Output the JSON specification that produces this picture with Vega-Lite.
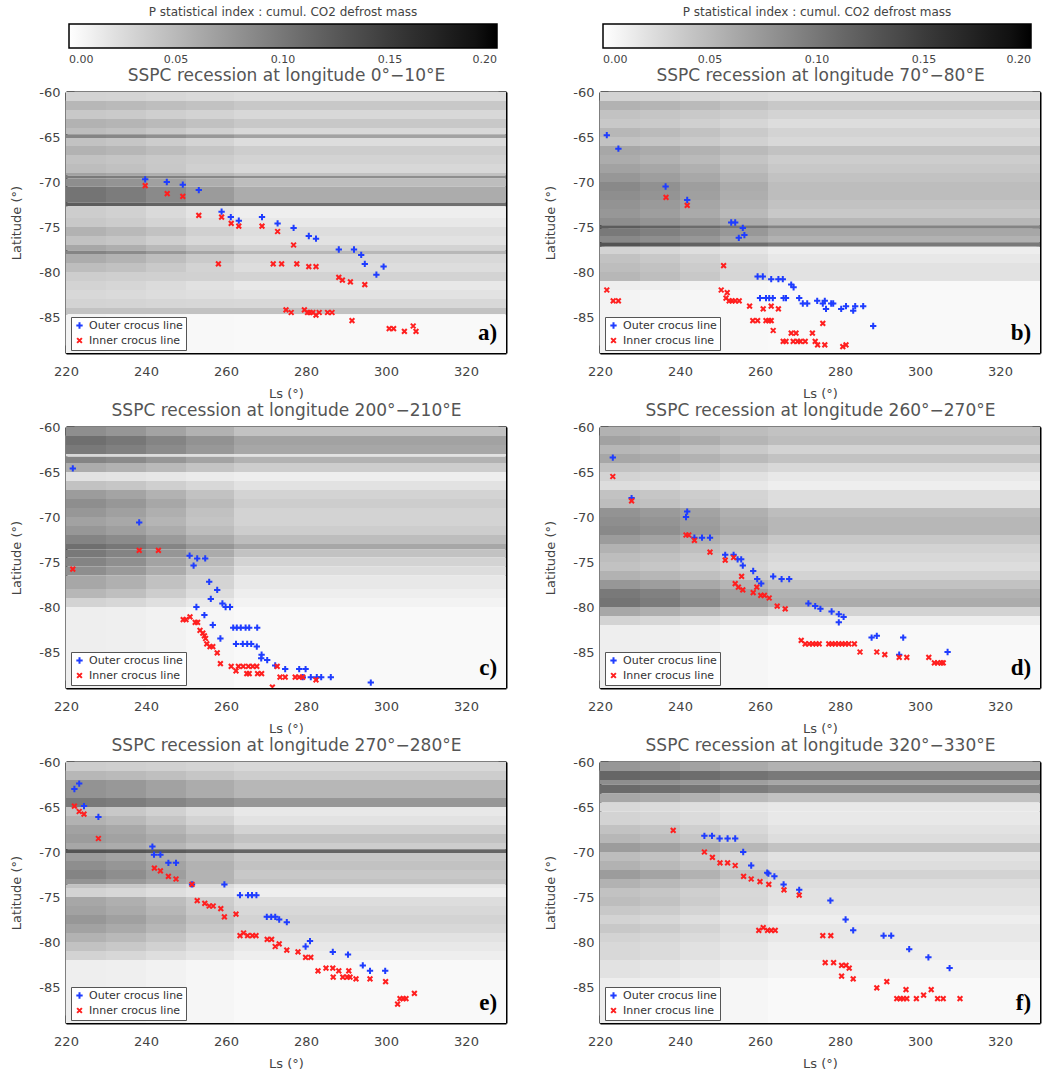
{
"$schema":"https://vega.github.io/schema/vega-lite/v6.json",
"background":"white",
"padding":{"left":10,"top":7,"right":4,"bottom":4},
"config":{"view":{"stroke":null},"axis":{"grid":false,"tickColor":"black","domainColor":"black","labelFont":"DejaVu Sans","titleFont":"DejaVu Sans","zindex":1,"labelFlush":false},"legend":{"labelFont":"DejaVu Sans","titleFont":"DejaVu Sans"}},
"datasets":{
"cols":[{"k":"c1","x0":220,"x1":230},{"k":"c2","x0":230,"x1":240},{"k":"c3","x0":240,"x1":250},{"k":"c4","x0":250,"x1":262},{"k":"c5","x0":262,"x1":330}],
"heat":[
{"p":"a","y0":-60,"y1":-61,"c1":0.031,"c2":0.030,"c3":0.028,"c4":0.026,"c5":0.024},
{"p":"a","y0":-61,"y1":-62,"c1":0.051,"c2":0.049,"c3":0.046,"c4":0.043,"c5":0.039},
{"p":"a","y0":-62,"y1":-63,"c1":0.039,"c2":0.037,"c3":0.034,"c4":0.031,"c5":0.027},
{"p":"a","y0":-63,"y1":-64,"c1":0.055,"c2":0.053,"c3":0.049,"c4":0.044,"c5":0.039},
{"p":"a","y0":-64,"y1":-64.7,"c1":0.047,"c2":0.044,"c3":0.039,"c4":0.033,"c5":0.027},
{"p":"a","y0":-64.7,"y1":-65.1,"c1":0.090,"c2":0.087,"c3":0.081,"c4":0.074,"c5":0.067},
{"p":"a","y0":-65.1,"y1":-66,"c1":0.043,"c2":0.040,"c3":0.035,"c4":0.030,"c5":0.024},
{"p":"a","y0":-66,"y1":-67,"c1":0.055,"c2":0.052,"c3":0.047,"c4":0.041,"c5":0.035},
{"p":"a","y0":-67,"y1":-68,"c1":0.043,"c2":0.041,"c3":0.038,"c4":0.035,"c5":0.031},
{"p":"a","y0":-68,"y1":-69,"c1":0.047,"c2":0.044,"c3":0.039,"c4":0.033,"c5":0.027},
{"p":"a","y0":-69,"y1":-69.3,"c1":0.067,"c2":0.063,"c3":0.057,"c4":0.050,"c5":0.043},
{"p":"a","y0":-69.3,"y1":-69.6,"c1":0.098,"c2":0.096,"c3":0.092,"c4":0.087,"c5":0.082},
{"p":"a","y0":-69.6,"y1":-70.5,"c1":0.082,"c2":0.077,"c3":0.068,"c4":0.058,"c5":0.047},
{"p":"a","y0":-70.5,"y1":-72.3,"c1":0.102,"c2":0.096,"c3":0.085,"c4":0.072,"c5":0.059},
{"p":"a","y0":-72.3,"y1":-72.7,"c1":0.122,"c2":0.120,"c3":0.116,"c4":0.111,"c5":0.106},
{"p":"a","y0":-72.7,"y1":-74,"c1":0.035,"c2":0.032,"c3":0.026,"c4":0.019,"c5":0.012},
{"p":"a","y0":-74,"y1":-75,"c1":0.039,"c2":0.036,"c3":0.030,"c4":0.023,"c5":0.016},
{"p":"a","y0":-75,"y1":-76,"c1":0.055,"c2":0.050,"c3":0.043,"c4":0.033,"c5":0.024},
{"p":"a","y0":-76,"y1":-77,"c1":0.043,"c2":0.040,"c3":0.034,"c4":0.027,"c5":0.020},
{"p":"a","y0":-77,"y1":-77.6,"c1":0.063,"c2":0.058,"c3":0.050,"c4":0.041,"c5":0.031},
{"p":"a","y0":-77.6,"y1":-78,"c1":0.090,"c2":0.084,"c3":0.074,"c4":0.063,"c5":0.051},
{"p":"a","y0":-78,"y1":-79,"c1":0.059,"c2":0.054,"c3":0.046,"c4":0.037,"c5":0.027},
{"p":"a","y0":-79,"y1":-80,"c1":0.047,"c2":0.044,"c3":0.038,"c4":0.031,"c5":0.024},
{"p":"a","y0":-80,"y1":-81,"c1":0.035,"c2":0.034,"c3":0.033,"c4":0.032,"c5":0.031},
{"p":"a","y0":-81,"y1":-82,"c1":0.031,"c2":0.029,"c3":0.025,"c4":0.021,"c5":0.016},
{"p":"a","y0":-82,"y1":-83,"c1":0.027,"c2":0.026,"c3":0.024,"c4":0.022,"c5":0.020},
{"p":"a","y0":-83,"y1":-84,"c1":0.031,"c2":0.030,"c3":0.029,"c4":0.028,"c5":0.027},
{"p":"a","y0":-84,"y1":-84.7,"c1":0.043,"c2":0.043,"c3":0.043,"c4":0.043,"c5":0.043},
{"p":"a","y0":-84.7,"y1":-89,"c1":0.008,"c2":0.007,"c3":0.006,"c4":0.005,"c5":0.004},
{"p":"b","y0":-60,"y1":-61,"c1":0.031,"c2":0.030,"c3":0.028,"c4":0.026,"c5":0.024},
{"p":"b","y0":-61,"y1":-62,"c1":0.055,"c2":0.053,"c3":0.049,"c4":0.044,"c5":0.039},
{"p":"b","y0":-62,"y1":-63,"c1":0.043,"c2":0.041,"c3":0.038,"c4":0.035,"c5":0.031},
{"p":"b","y0":-63,"y1":-64,"c1":0.039,"c2":0.037,"c3":0.033,"c4":0.029,"c5":0.024},
{"p":"b","y0":-64,"y1":-65,"c1":0.051,"c2":0.048,"c3":0.043,"c4":0.037,"c5":0.031},
{"p":"b","y0":-65,"y1":-66,"c1":0.043,"c2":0.041,"c3":0.037,"c4":0.032,"c5":0.027},
{"p":"b","y0":-66,"y1":-67,"c1":0.063,"c2":0.060,"c3":0.055,"c4":0.049,"c5":0.043},
{"p":"b","y0":-67,"y1":-68,"c1":0.059,"c2":0.055,"c3":0.049,"c4":0.042,"c5":0.035},
{"p":"b","y0":-68,"y1":-69,"c1":0.067,"c2":0.063,"c3":0.056,"c4":0.047,"c5":0.039},
{"p":"b","y0":-69,"y1":-70,"c1":0.075,"c2":0.070,"c3":0.062,"c4":0.053,"c5":0.043},
{"p":"b","y0":-70,"y1":-71,"c1":0.086,"c2":0.080,"c3":0.070,"c4":0.059,"c5":0.047},
{"p":"b","y0":-71,"y1":-72,"c1":0.082,"c2":0.077,"c3":0.068,"c4":0.058,"c5":0.047},
{"p":"b","y0":-72,"y1":-73,"c1":0.078,"c2":0.073,"c3":0.064,"c4":0.054,"c5":0.043},
{"p":"b","y0":-73,"y1":-74,"c1":0.075,"c2":0.070,"c3":0.061,"c4":0.050,"c5":0.039},
{"p":"b","y0":-74,"y1":-74.8,"c1":0.082,"c2":0.077,"c3":0.070,"c4":0.060,"c5":0.051},
{"p":"b","y0":-74.8,"y1":-75.2,"c1":0.122,"c2":0.117,"c3":0.109,"c4":0.100,"c5":0.090},
{"p":"b","y0":-75.2,"y1":-76,"c1":0.098,"c2":0.093,"c3":0.084,"c4":0.074,"c5":0.063},
{"p":"b","y0":-76,"y1":-76.7,"c1":0.086,"c2":0.081,"c3":0.074,"c4":0.064,"c5":0.055},
{"p":"b","y0":-76.7,"y1":-77.2,"c1":0.129,"c2":0.124,"c3":0.117,"c4":0.107,"c5":0.098},
{"p":"b","y0":-77.2,"y1":-78,"c1":0.031,"c2":0.028,"c3":0.023,"c4":0.018,"c5":0.012},
{"p":"b","y0":-78,"y1":-79,"c1":0.043,"c2":0.039,"c3":0.032,"c4":0.024,"c5":0.016},
{"p":"b","y0":-79,"y1":-80,"c1":0.047,"c2":0.043,"c3":0.036,"c4":0.028,"c5":0.020},
{"p":"b","y0":-80,"y1":-81,"c1":0.051,"c2":0.046,"c3":0.039,"c4":0.029,"c5":0.020},
{"p":"b","y0":-81,"y1":-82,"c1":0.012,"c2":0.011,"c3":0.009,"c4":0.007,"c5":0.005},
{"p":"b","y0":-82,"y1":-89,"c1":0.008,"c2":0.007,"c3":0.006,"c4":0.005,"c5":0.004},
{"p":"c","y0":-60,"y1":-61,"c1":0.082,"c2":0.076,"c3":0.066,"c4":0.055,"c5":0.043},
{"p":"c","y0":-61,"y1":-62,"c1":0.106,"c2":0.100,"c3":0.090,"c4":0.079,"c5":0.067},
{"p":"c","y0":-62,"y1":-63,"c1":0.098,"c2":0.093,"c3":0.084,"c4":0.074,"c5":0.063},
{"p":"c","y0":-63,"y1":-63.3,"c1":0.027,"c2":0.026,"c3":0.024,"c4":0.022,"c5":0.020},
{"p":"c","y0":-63.3,"y1":-64,"c1":0.090,"c2":0.085,"c3":0.076,"c4":0.066,"c5":0.055},
{"p":"c","y0":-64,"y1":-65,"c1":0.059,"c2":0.055,"c3":0.049,"c4":0.042,"c5":0.035},
{"p":"c","y0":-65,"y1":-66,"c1":0.020,"c2":0.019,"c3":0.017,"c4":0.014,"c5":0.012},
{"p":"c","y0":-66,"y1":-67,"c1":0.043,"c2":0.040,"c3":0.034,"c4":0.027,"c5":0.020},
{"p":"c","y0":-67,"y1":-68,"c1":0.071,"c2":0.065,"c3":0.055,"c4":0.043,"c5":0.031},
{"p":"c","y0":-68,"y1":-69,"c1":0.082,"c2":0.075,"c3":0.063,"c4":0.049,"c5":0.035},
{"p":"c","y0":-69,"y1":-70,"c1":0.075,"c2":0.068,"c3":0.057,"c4":0.044,"c5":0.031},
{"p":"c","y0":-70,"y1":-71,"c1":0.067,"c2":0.062,"c3":0.053,"c4":0.042,"c5":0.031},
{"p":"c","y0":-71,"y1":-72,"c1":0.075,"c2":0.069,"c3":0.059,"c4":0.047,"c5":0.035},
{"p":"c","y0":-72,"y1":-73,"c1":0.090,"c2":0.084,"c3":0.073,"c4":0.060,"c5":0.047},
{"p":"c","y0":-73,"y1":-73.6,"c1":0.106,"c2":0.100,"c3":0.089,"c4":0.076,"c5":0.063},
{"p":"c","y0":-73.6,"y1":-74.5,"c1":0.098,"c2":0.090,"c3":0.076,"c4":0.060,"c5":0.043},
{"p":"c","y0":-74.5,"y1":-75.5,"c1":0.090,"c2":0.081,"c3":0.066,"c4":0.049,"c5":0.031},
{"p":"c","y0":-75.5,"y1":-76.5,"c1":0.082,"c2":0.073,"c3":0.059,"c4":0.041,"c5":0.024},
{"p":"c","y0":-76.5,"y1":-78,"c1":0.063,"c2":0.056,"c3":0.044,"c4":0.030,"c5":0.016},
{"p":"c","y0":-78,"y1":-79,"c1":0.051,"c2":0.045,"c3":0.035,"c4":0.024,"c5":0.012},
{"p":"c","y0":-79,"y1":-80,"c1":0.031,"c2":0.028,"c3":0.022,"c4":0.015,"c5":0.008},
{"p":"c","y0":-80,"y1":-89,"c1":0.012,"c2":0.011,"c3":0.009,"c4":0.006,"c5":0.004},
{"p":"d","y0":-60,"y1":-61,"c1":0.055,"c2":0.053,"c3":0.050,"c4":0.047,"c5":0.043},
{"p":"d","y0":-61,"y1":-62,"c1":0.067,"c2":0.064,"c3":0.059,"c4":0.053,"c5":0.047},
{"p":"d","y0":-62,"y1":-63,"c1":0.051,"c2":0.048,"c3":0.043,"c4":0.037,"c5":0.031},
{"p":"d","y0":-63,"y1":-64,"c1":0.063,"c2":0.060,"c3":0.055,"c4":0.049,"c5":0.043},
{"p":"d","y0":-64,"y1":-65,"c1":0.043,"c2":0.041,"c3":0.037,"c4":0.032,"c5":0.027},
{"p":"d","y0":-65,"y1":-66,"c1":0.031,"c2":0.029,"c3":0.025,"c4":0.021,"c5":0.016},
{"p":"d","y0":-66,"y1":-67,"c1":0.024,"c2":0.022,"c3":0.019,"c4":0.016,"c5":0.012},
{"p":"d","y0":-67,"y1":-68,"c1":0.043,"c2":0.040,"c3":0.035,"c4":0.030,"c5":0.024},
{"p":"d","y0":-68,"y1":-69,"c1":0.047,"c2":0.044,"c3":0.038,"c4":0.031,"c5":0.024},
{"p":"d","y0":-69,"y1":-70,"c1":0.078,"c2":0.073,"c3":0.066,"c4":0.056,"c5":0.047},
{"p":"d","y0":-70,"y1":-71,"c1":0.082,"c2":0.077,"c3":0.070,"c4":0.060,"c5":0.051},
{"p":"d","y0":-71,"y1":-72,"c1":0.086,"c2":0.081,"c3":0.072,"c4":0.062,"c5":0.051},
{"p":"d","y0":-72,"y1":-73,"c1":0.071,"c2":0.066,"c3":0.058,"c4":0.049,"c5":0.039},
{"p":"d","y0":-73,"y1":-74,"c1":0.055,"c2":0.051,"c3":0.045,"c4":0.038,"c5":0.031},
{"p":"d","y0":-74,"y1":-75,"c1":0.047,"c2":0.044,"c3":0.039,"c4":0.033,"c5":0.027},
{"p":"d","y0":-75,"y1":-76,"c1":0.043,"c2":0.040,"c3":0.035,"c4":0.030,"c5":0.024},
{"p":"d","y0":-76,"y1":-77,"c1":0.055,"c2":0.051,"c3":0.045,"c4":0.038,"c5":0.031},
{"p":"d","y0":-77,"y1":-78,"c1":0.075,"c2":0.070,"c3":0.062,"c4":0.053,"c5":0.043},
{"p":"d","y0":-78,"y1":-79,"c1":0.098,"c2":0.092,"c3":0.081,"c4":0.068,"c5":0.055},
{"p":"d","y0":-79,"y1":-80,"c1":0.102,"c2":0.096,"c3":0.085,"c4":0.072,"c5":0.059},
{"p":"d","y0":-80,"y1":-81,"c1":0.063,"c2":0.058,"c3":0.050,"c4":0.041,"c5":0.031},
{"p":"d","y0":-81,"y1":-82,"c1":0.031,"c2":0.028,"c3":0.023,"c4":0.018,"c5":0.012},
{"p":"d","y0":-82,"y1":-89,"c1":0.012,"c2":0.011,"c3":0.009,"c4":0.006,"c5":0.004},
{"p":"e","y0":-60,"y1":-61,"c1":0.035,"c2":0.034,"c3":0.032,"c4":0.030,"c5":0.027},
{"p":"e","y0":-61,"y1":-62,"c1":0.051,"c2":0.049,"c3":0.045,"c4":0.040,"c5":0.035},
{"p":"e","y0":-62,"y1":-64,"c1":0.078,"c2":0.074,"c3":0.067,"c4":0.059,"c5":0.051},
{"p":"e","y0":-64,"y1":-65,"c1":0.098,"c2":0.095,"c3":0.089,"c4":0.082,"c5":0.075},
{"p":"e","y0":-65,"y1":-66,"c1":0.043,"c2":0.039,"c3":0.032,"c4":0.024,"c5":0.016},
{"p":"e","y0":-66,"y1":-67,"c1":0.055,"c2":0.050,"c3":0.041,"c4":0.031,"c5":0.020},
{"p":"e","y0":-67,"y1":-68,"c1":0.067,"c2":0.062,"c3":0.053,"c4":0.042,"c5":0.031},
{"p":"e","y0":-68,"y1":-69,"c1":0.071,"c2":0.067,"c3":0.060,"c4":0.051,"c5":0.043},
{"p":"e","y0":-69,"y1":-69.7,"c1":0.063,"c2":0.059,"c3":0.052,"c4":0.043,"c5":0.035},
{"p":"e","y0":-69.7,"y1":-70.1,"c1":0.129,"c2":0.127,"c3":0.123,"c4":0.118,"c5":0.114},
{"p":"e","y0":-70.1,"y1":-71,"c1":0.071,"c2":0.066,"c3":0.058,"c4":0.049,"c5":0.039},
{"p":"e","y0":-71,"y1":-72,"c1":0.082,"c2":0.076,"c3":0.066,"c4":0.055,"c5":0.043},
{"p":"e","y0":-72,"y1":-73,"c1":0.090,"c2":0.082,"c3":0.070,"c4":0.054,"c5":0.039},
{"p":"e","y0":-73,"y1":-73.6,"c1":0.078,"c2":0.073,"c3":0.064,"c4":0.054,"c5":0.043},
{"p":"e","y0":-73.6,"y1":-74,"c1":0.043,"c2":0.039,"c3":0.032,"c4":0.024,"c5":0.016},
{"p":"e","y0":-74,"y1":-75,"c1":0.031,"c2":0.028,"c3":0.023,"c4":0.018,"c5":0.012},
{"p":"e","y0":-75,"y1":-76,"c1":0.063,"c2":0.057,"c3":0.047,"c4":0.036,"c5":0.024},
{"p":"e","y0":-76,"y1":-77,"c1":0.067,"c2":0.061,"c3":0.051,"c4":0.039,"c5":0.027},
{"p":"e","y0":-77,"y1":-78,"c1":0.075,"c2":0.068,"c3":0.057,"c4":0.044,"c5":0.031},
{"p":"e","y0":-78,"y1":-79,"c1":0.067,"c2":0.061,"c3":0.051,"c4":0.039,"c5":0.027},
{"p":"e","y0":-79,"y1":-80,"c1":0.055,"c2":0.050,"c3":0.041,"c4":0.031,"c5":0.020},
{"p":"e","y0":-80,"y1":-81,"c1":0.043,"c2":0.039,"c3":0.032,"c4":0.024,"c5":0.016},
{"p":"e","y0":-81,"y1":-82,"c1":0.031,"c2":0.028,"c3":0.023,"c4":0.018,"c5":0.012},
{"p":"e","y0":-82,"y1":-89,"c1":0.012,"c2":0.011,"c3":0.009,"c4":0.006,"c5":0.004},
{"p":"f","y0":-60,"y1":-61,"c1":0.075,"c2":0.072,"c3":0.067,"c4":0.061,"c5":0.055},
{"p":"f","y0":-61,"y1":-62,"c1":0.114,"c2":0.112,"c3":0.108,"c4":0.103,"c5":0.098},
{"p":"f","y0":-62,"y1":-62.5,"c1":0.082,"c2":0.079,"c3":0.074,"c4":0.069,"c5":0.063},
{"p":"f","y0":-62.5,"y1":-63.5,"c1":0.110,"c2":0.107,"c3":0.102,"c4":0.096,"c5":0.090},
{"p":"f","y0":-63.5,"y1":-64.5,"c1":0.063,"c2":0.060,"c3":0.055,"c4":0.049,"c5":0.043},
{"p":"f","y0":-64.5,"y1":-65.5,"c1":0.027,"c2":0.025,"c3":0.023,"c4":0.019,"c5":0.016},
{"p":"f","y0":-65.5,"y1":-67,"c1":0.031,"c2":0.029,"c3":0.025,"c4":0.021,"c5":0.016},
{"p":"f","y0":-67,"y1":-68,"c1":0.043,"c2":0.040,"c3":0.034,"c4":0.027,"c5":0.020},
{"p":"f","y0":-68,"y1":-69,"c1":0.051,"c2":0.047,"c3":0.040,"c4":0.032,"c5":0.024},
{"p":"f","y0":-69,"y1":-70,"c1":0.071,"c2":0.067,"c3":0.060,"c4":0.051,"c5":0.043},
{"p":"f","y0":-70,"y1":-71,"c1":0.047,"c2":0.043,"c3":0.036,"c4":0.028,"c5":0.020},
{"p":"f","y0":-71,"y1":-72,"c1":0.055,"c2":0.050,"c3":0.043,"c4":0.033,"c5":0.024},
{"p":"f","y0":-72,"y1":-73,"c1":0.071,"c2":0.065,"c3":0.055,"c4":0.043,"c5":0.031},
{"p":"f","y0":-73,"y1":-74,"c1":0.055,"c2":0.050,"c3":0.043,"c4":0.033,"c5":0.024},
{"p":"f","y0":-74,"y1":-75,"c1":0.043,"c2":0.040,"c3":0.034,"c4":0.027,"c5":0.020},
{"p":"f","y0":-75,"y1":-76,"c1":0.047,"c2":0.043,"c3":0.036,"c4":0.028,"c5":0.020},
{"p":"f","y0":-76,"y1":-77,"c1":0.039,"c2":0.036,"c3":0.030,"c4":0.023,"c5":0.016},
{"p":"f","y0":-77,"y1":-78,"c1":0.031,"c2":0.028,"c3":0.023,"c4":0.018,"c5":0.012},
{"p":"f","y0":-78,"y1":-79,"c1":0.039,"c2":0.036,"c3":0.030,"c4":0.023,"c5":0.016},
{"p":"f","y0":-79,"y1":-80,"c1":0.031,"c2":0.029,"c3":0.025,"c4":0.021,"c5":0.016},
{"p":"f","y0":-80,"y1":-82,"c1":0.027,"c2":0.025,"c3":0.021,"c4":0.017,"c5":0.012},
{"p":"f","y0":-82,"y1":-84,"c1":0.020,"c2":0.018,"c3":0.015,"c4":0.012,"c5":0.008},
{"p":"f","y0":-84,"y1":-89,"c1":0.012,"c2":0.011,"c3":0.009,"c4":0.006,"c5":0.004}
],
"pts":[
{"p":"a","t":"o","x":239.8,"y":-69.7},{"p":"a","t":"o","x":245.2,"y":-70.0},{"p":"a","t":"o","x":249.2,"y":-70.3},{"p":"a","t":"o","x":253.2,"y":-70.9},{"p":"a","t":"o","x":258.9,"y":-73.3},{"p":"a","t":"o","x":261.2,"y":-73.9},{"p":"a","t":"o","x":263.2,"y":-74.3},{"p":"a","t":"o","x":269.0,"y":-73.9},{"p":"a","t":"o","x":272.9,"y":-74.6},{"p":"a","t":"o","x":276.9,"y":-75.1},{"p":"a","t":"o","x":280.7,"y":-76.0},{"p":"a","t":"o","x":282.5,"y":-76.3},{"p":"a","t":"o","x":288.2,"y":-77.5},{"p":"a","t":"o","x":292.0,"y":-77.5},{"p":"a","t":"o","x":293.8,"y":-78.1},{"p":"a","t":"o","x":294.7,"y":-79.1},{"p":"a","t":"o","x":297.6,"y":-80.3},{"p":"a","t":"o","x":299.4,"y":-79.4},
{"p":"a","t":"i","x":239.8,"y":-70.4},{"p":"a","t":"i","x":245.3,"y":-71.3},{"p":"a","t":"i","x":249.2,"y":-71.6},{"p":"a","t":"i","x":253.2,"y":-73.7},{"p":"a","t":"i","x":258.9,"y":-73.9},{"p":"a","t":"i","x":261.3,"y":-74.6},{"p":"a","t":"i","x":263.2,"y":-74.9},{"p":"a","t":"i","x":269.0,"y":-74.9},{"p":"a","t":"i","x":272.9,"y":-75.5},{"p":"a","t":"i","x":276.9,"y":-77.0},{"p":"a","t":"i","x":258.1,"y":-79.1},{"p":"a","t":"i","x":271.8,"y":-79.1},{"p":"a","t":"i","x":273.9,"y":-79.1},{"p":"a","t":"i","x":277.7,"y":-79.1},{"p":"a","t":"i","x":280.7,"y":-79.4},{"p":"a","t":"i","x":282.5,"y":-79.4},{"p":"a","t":"i","x":288.2,"y":-80.6},{"p":"a","t":"i","x":289.1,"y":-80.9},{"p":"a","t":"i","x":291.1,"y":-81.1},{"p":"a","t":"i","x":294.7,"y":-81.4},{"p":"a","t":"i","x":275.0,"y":-84.2},{"p":"a","t":"i","x":276.3,"y":-84.5},{"p":"a","t":"i","x":279.6,"y":-84.2},{"p":"a","t":"i","x":280.4,"y":-84.5},{"p":"a","t":"i","x":281.0,"y":-84.5},{"p":"a","t":"i","x":281.7,"y":-84.5},{"p":"a","t":"i","x":282.5,"y":-84.8},{"p":"a","t":"i","x":283.3,"y":-84.5},{"p":"a","t":"i","x":285.4,"y":-84.5},{"p":"a","t":"i","x":286.5,"y":-84.5},{"p":"a","t":"i","x":291.5,"y":-85.4},{"p":"a","t":"i","x":300.8,"y":-86.3},{"p":"a","t":"i","x":301.9,"y":-86.3},{"p":"a","t":"i","x":304.6,"y":-86.6},{"p":"a","t":"i","x":306.8,"y":-86.0},{"p":"a","t":"i","x":307.5,"y":-86.6},
{"p":"b","t":"o","x":221.7,"y":-64.8},{"p":"b","t":"o","x":224.6,"y":-66.3},{"p":"b","t":"o","x":236.4,"y":-70.5},{"p":"b","t":"o","x":241.8,"y":-72.0},{"p":"b","t":"o","x":252.8,"y":-74.5},{"p":"b","t":"o","x":253.8,"y":-74.5},{"p":"b","t":"o","x":255.7,"y":-75.1},{"p":"b","t":"o","x":254.7,"y":-76.2},{"p":"b","t":"o","x":256.1,"y":-75.9},{"p":"b","t":"o","x":259.4,"y":-80.5},{"p":"b","t":"o","x":260.7,"y":-80.5},{"p":"b","t":"o","x":262.8,"y":-80.8},{"p":"b","t":"o","x":264.6,"y":-80.8},{"p":"b","t":"o","x":265.7,"y":-80.8},{"p":"b","t":"o","x":267.8,"y":-81.4},{"p":"b","t":"o","x":268.4,"y":-81.7},{"p":"b","t":"o","x":260.0,"y":-82.9},{"p":"b","t":"o","x":261.5,"y":-82.9},{"p":"b","t":"o","x":262.3,"y":-82.9},{"p":"b","t":"o","x":263.2,"y":-82.9},{"p":"b","t":"o","x":265.9,"y":-82.9},{"p":"b","t":"o","x":266.5,"y":-82.9},{"p":"b","t":"o","x":269.8,"y":-82.9},{"p":"b","t":"o","x":270.7,"y":-83.5},{"p":"b","t":"o","x":271.8,"y":-83.5},{"p":"b","t":"o","x":274.3,"y":-83.2},{"p":"b","t":"o","x":275.7,"y":-83.5},{"p":"b","t":"o","x":276.2,"y":-83.2},{"p":"b","t":"o","x":276.5,"y":-84.1},{"p":"b","t":"o","x":277.8,"y":-83.5},{"p":"b","t":"o","x":278.3,"y":-83.5},{"p":"b","t":"o","x":280.3,"y":-84.1},{"p":"b","t":"o","x":281.5,"y":-83.8},{"p":"b","t":"o","x":283.3,"y":-84.3},{"p":"b","t":"o","x":283.8,"y":-83.8},{"p":"b","t":"o","x":285.8,"y":-83.8},{"p":"b","t":"o","x":288.3,"y":-86.0},
{"p":"b","t":"i","x":221.7,"y":-82.0},{"p":"b","t":"i","x":223.3,"y":-83.2},{"p":"b","t":"i","x":224.6,"y":-83.2},{"p":"b","t":"i","x":236.5,"y":-71.7},{"p":"b","t":"i","x":241.8,"y":-72.6},{"p":"b","t":"i","x":250.9,"y":-79.3},{"p":"b","t":"i","x":250.3,"y":-82.0},{"p":"b","t":"i","x":251.8,"y":-82.3},{"p":"b","t":"i","x":251.5,"y":-82.9},{"p":"b","t":"i","x":252.3,"y":-83.2},{"p":"b","t":"i","x":253.0,"y":-83.2},{"p":"b","t":"i","x":253.8,"y":-83.2},{"p":"b","t":"i","x":254.8,"y":-83.2},{"p":"b","t":"i","x":257.4,"y":-83.8},{"p":"b","t":"i","x":260.8,"y":-84.1},{"p":"b","t":"i","x":262.8,"y":-83.8},{"p":"b","t":"i","x":264.6,"y":-84.1},{"p":"b","t":"i","x":258.2,"y":-85.4},{"p":"b","t":"i","x":259.4,"y":-85.4},{"p":"b","t":"i","x":261.5,"y":-85.4},{"p":"b","t":"i","x":262.2,"y":-85.4},{"p":"b","t":"i","x":262.8,"y":-85.4},{"p":"b","t":"i","x":263.3,"y":-86.5},{"p":"b","t":"i","x":275.7,"y":-85.7},{"p":"b","t":"i","x":267.8,"y":-86.8},{"p":"b","t":"i","x":269.0,"y":-86.8},{"p":"b","t":"i","x":273.1,"y":-86.8},{"p":"b","t":"i","x":265.8,"y":-87.7},{"p":"b","t":"i","x":266.5,"y":-87.7},{"p":"b","t":"i","x":268.3,"y":-87.7},{"p":"b","t":"i","x":269.4,"y":-87.7},{"p":"b","t":"i","x":270.1,"y":-87.7},{"p":"b","t":"i","x":271.3,"y":-87.7},{"p":"b","t":"i","x":273.8,"y":-87.7},{"p":"b","t":"i","x":274.4,"y":-88.1},{"p":"b","t":"i","x":276.2,"y":-88.1},{"p":"b","t":"i","x":280.7,"y":-88.3},{"p":"b","t":"i","x":281.5,"y":-88.1},
{"p":"c","t":"o","x":221.7,"y":-64.6},{"p":"c","t":"o","x":238.3,"y":-70.6},{"p":"c","t":"o","x":250.9,"y":-74.3},{"p":"c","t":"o","x":252.8,"y":-74.6},{"p":"c","t":"o","x":254.8,"y":-74.6},{"p":"c","t":"o","x":251.9,"y":-75.4},{"p":"c","t":"o","x":255.8,"y":-77.2},{"p":"c","t":"o","x":257.8,"y":-78.1},{"p":"c","t":"o","x":256.2,"y":-79.1},{"p":"c","t":"o","x":259.1,"y":-79.6},{"p":"c","t":"o","x":259.9,"y":-80.0},{"p":"c","t":"o","x":261.0,"y":-80.0},{"p":"c","t":"o","x":252.6,"y":-80.0},{"p":"c","t":"o","x":254.6,"y":-80.9},{"p":"c","t":"o","x":256.7,"y":-82.0},{"p":"c","t":"o","x":261.8,"y":-82.3},{"p":"c","t":"o","x":262.7,"y":-82.3},{"p":"c","t":"o","x":263.7,"y":-82.3},{"p":"c","t":"o","x":264.9,"y":-82.3},{"p":"c","t":"o","x":265.8,"y":-82.3},{"p":"c","t":"o","x":267.8,"y":-82.3},{"p":"c","t":"o","x":258.6,"y":-83.5},{"p":"c","t":"o","x":262.5,"y":-84.1},{"p":"c","t":"o","x":264.2,"y":-84.1},{"p":"c","t":"o","x":265.3,"y":-84.1},{"p":"c","t":"o","x":266.3,"y":-84.1},{"p":"c","t":"o","x":267.7,"y":-84.4},{"p":"c","t":"o","x":268.9,"y":-85.3},{"p":"c","t":"o","x":268.8,"y":-85.7},{"p":"c","t":"o","x":270.3,"y":-85.9},{"p":"c","t":"o","x":272.3,"y":-86.5},{"p":"c","t":"o","x":274.8,"y":-86.9},{"p":"c","t":"o","x":278.3,"y":-86.9},{"p":"c","t":"o","x":279.9,"y":-86.9},{"p":"c","t":"o","x":279.2,"y":-87.8},{"p":"c","t":"o","x":281.2,"y":-87.8},{"p":"c","t":"o","x":282.7,"y":-87.8},{"p":"c","t":"o","x":283.8,"y":-87.8},{"p":"c","t":"o","x":286.2,"y":-87.8},{"p":"c","t":"o","x":296.2,"y":-88.4},
{"p":"c","t":"i","x":221.7,"y":-75.8},{"p":"c","t":"i","x":238.3,"y":-73.7},{"p":"c","t":"i","x":243.1,"y":-73.7},{"p":"c","t":"i","x":249.3,"y":-81.4},{"p":"c","t":"i","x":250.0,"y":-81.4},{"p":"c","t":"i","x":251.0,"y":-81.1},{"p":"c","t":"i","x":252.3,"y":-81.7},{"p":"c","t":"i","x":252.9,"y":-81.7},{"p":"c","t":"i","x":253.5,"y":-82.6},{"p":"c","t":"i","x":254.2,"y":-82.9},{"p":"c","t":"i","x":254.6,"y":-83.2},{"p":"c","t":"i","x":254.9,"y":-83.5},{"p":"c","t":"i","x":255.2,"y":-84.1},{"p":"c","t":"i","x":256.0,"y":-84.4},{"p":"c","t":"i","x":256.7,"y":-84.4},{"p":"c","t":"i","x":257.8,"y":-85.1},{"p":"c","t":"i","x":258.6,"y":-86.3},{"p":"c","t":"i","x":261.3,"y":-86.6},{"p":"c","t":"i","x":262.5,"y":-87.1},{"p":"c","t":"i","x":263.1,"y":-86.6},{"p":"c","t":"i","x":264.3,"y":-86.6},{"p":"c","t":"i","x":265.6,"y":-86.6},{"p":"c","t":"i","x":266.7,"y":-86.6},{"p":"c","t":"i","x":267.7,"y":-86.6},{"p":"c","t":"i","x":265.2,"y":-87.4},{"p":"c","t":"i","x":265.8,"y":-87.4},{"p":"c","t":"i","x":267.9,"y":-87.4},{"p":"c","t":"i","x":268.9,"y":-87.4},{"p":"c","t":"i","x":271.6,"y":-88.9},{"p":"c","t":"i","x":272.8,"y":-86.6},{"p":"c","t":"i","x":273.5,"y":-87.8},{"p":"c","t":"i","x":274.8,"y":-87.8},{"p":"c","t":"i","x":277.3,"y":-87.8},{"p":"c","t":"i","x":278.3,"y":-87.8},{"p":"c","t":"i","x":279.2,"y":-87.8},{"p":"c","t":"i","x":282.5,"y":-88.1},
{"p":"d","t":"o","x":223.2,"y":-63.4},{"p":"d","t":"o","x":227.9,"y":-67.9},{"p":"d","t":"o","x":241.8,"y":-69.4},{"p":"d","t":"o","x":241.5,"y":-70.0},{"p":"d","t":"o","x":243.6,"y":-72.3},{"p":"d","t":"o","x":245.5,"y":-72.3},{"p":"d","t":"o","x":247.5,"y":-72.3},{"p":"d","t":"o","x":251.3,"y":-74.2},{"p":"d","t":"o","x":253.4,"y":-74.2},{"p":"d","t":"o","x":254.4,"y":-74.7},{"p":"d","t":"o","x":255.3,"y":-74.7},{"p":"d","t":"o","x":255.7,"y":-75.4},{"p":"d","t":"o","x":258.3,"y":-76.0},{"p":"d","t":"o","x":259.3,"y":-76.9},{"p":"d","t":"o","x":260.3,"y":-77.4},{"p":"d","t":"o","x":263.3,"y":-76.6},{"p":"d","t":"o","x":265.4,"y":-76.9},{"p":"d","t":"o","x":267.3,"y":-76.9},{"p":"d","t":"o","x":272.1,"y":-79.6},{"p":"d","t":"o","x":273.8,"y":-79.9},{"p":"d","t":"o","x":275.1,"y":-80.2},{"p":"d","t":"o","x":277.9,"y":-80.5},{"p":"d","t":"o","x":279.7,"y":-80.8},{"p":"d","t":"o","x":279.7,"y":-81.7},{"p":"d","t":"o","x":280.9,"y":-81.1},{"p":"d","t":"o","x":287.9,"y":-83.4},{"p":"d","t":"o","x":289.2,"y":-83.2},{"p":"d","t":"o","x":295.8,"y":-83.4},{"p":"d","t":"o","x":294.8,"y":-85.3},{"p":"d","t":"o","x":306.9,"y":-85.0},
{"p":"d","t":"i","x":223.2,"y":-65.5},{"p":"d","t":"i","x":227.9,"y":-68.2},{"p":"d","t":"i","x":241.5,"y":-72.0},{"p":"d","t":"i","x":242.2,"y":-72.0},{"p":"d","t":"i","x":243.6,"y":-72.6},{"p":"d","t":"i","x":247.5,"y":-73.9},{"p":"d","t":"i","x":251.3,"y":-74.8},{"p":"d","t":"i","x":253.4,"y":-74.5},{"p":"d","t":"i","x":255.4,"y":-76.6},{"p":"d","t":"i","x":253.8,"y":-77.4},{"p":"d","t":"i","x":254.6,"y":-77.8},{"p":"d","t":"i","x":255.7,"y":-78.1},{"p":"d","t":"i","x":258.3,"y":-78.4},{"p":"d","t":"i","x":259.2,"y":-77.8},{"p":"d","t":"i","x":260.2,"y":-78.7},{"p":"d","t":"i","x":261.1,"y":-78.7},{"p":"d","t":"i","x":262.3,"y":-79.0},{"p":"d","t":"i","x":264.3,"y":-79.9},{"p":"d","t":"i","x":266.3,"y":-80.2},{"p":"d","t":"i","x":270.3,"y":-83.7},{"p":"d","t":"i","x":271.3,"y":-84.1},{"p":"d","t":"i","x":272.3,"y":-84.1},{"p":"d","t":"i","x":273.2,"y":-84.1},{"p":"d","t":"i","x":274.0,"y":-84.1},{"p":"d","t":"i","x":274.8,"y":-84.1},{"p":"d","t":"i","x":277.2,"y":-84.1},{"p":"d","t":"i","x":278.0,"y":-84.1},{"p":"d","t":"i","x":278.8,"y":-84.1},{"p":"d","t":"i","x":279.7,"y":-84.1},{"p":"d","t":"i","x":280.5,"y":-84.1},{"p":"d","t":"i","x":281.3,"y":-84.1},{"p":"d","t":"i","x":282.2,"y":-84.1},{"p":"d","t":"i","x":283.6,"y":-84.1},{"p":"d","t":"i","x":285.0,"y":-85.0},{"p":"d","t":"i","x":289.2,"y":-85.0},{"p":"d","t":"i","x":291.2,"y":-85.3},{"p":"d","t":"i","x":294.8,"y":-85.6},{"p":"d","t":"i","x":296.7,"y":-85.6},{"p":"d","t":"i","x":302.2,"y":-85.6},{"p":"d","t":"i","x":303.6,"y":-86.2},{"p":"d","t":"i","x":304.4,"y":-86.2},{"p":"d","t":"i","x":305.3,"y":-86.2},{"p":"d","t":"i","x":305.8,"y":-86.2},
{"p":"e","t":"o","x":222.1,"y":-63.0},{"p":"e","t":"o","x":223.3,"y":-62.4},{"p":"e","t":"o","x":224.5,"y":-64.9},{"p":"e","t":"o","x":228.1,"y":-66.1},{"p":"e","t":"o","x":241.6,"y":-69.4},{"p":"e","t":"o","x":242.0,"y":-70.3},{"p":"e","t":"o","x":243.6,"y":-70.3},{"p":"e","t":"o","x":245.6,"y":-71.2},{"p":"e","t":"o","x":247.5,"y":-71.2},{"p":"e","t":"o","x":251.5,"y":-73.6},{"p":"e","t":"o","x":259.6,"y":-73.6},{"p":"e","t":"o","x":263.5,"y":-74.8},{"p":"e","t":"o","x":265.5,"y":-74.8},{"p":"e","t":"o","x":266.5,"y":-74.8},{"p":"e","t":"o","x":267.6,"y":-74.8},{"p":"e","t":"o","x":270.2,"y":-77.2},{"p":"e","t":"o","x":271.3,"y":-77.2},{"p":"e","t":"o","x":272.3,"y":-77.2},{"p":"e","t":"o","x":273.3,"y":-77.5},{"p":"e","t":"o","x":275.2,"y":-77.8},{"p":"e","t":"o","x":279.9,"y":-80.5},{"p":"e","t":"o","x":281.0,"y":-79.9},{"p":"e","t":"o","x":286.7,"y":-81.1},{"p":"e","t":"o","x":290.5,"y":-81.4},{"p":"e","t":"o","x":294.2,"y":-82.6},{"p":"e","t":"o","x":296.0,"y":-83.2},{"p":"e","t":"o","x":299.8,"y":-83.2},
{"p":"e","t":"i","x":222.1,"y":-64.9},{"p":"e","t":"i","x":223.3,"y":-65.5},{"p":"e","t":"i","x":224.5,"y":-65.8},{"p":"e","t":"i","x":228.1,"y":-68.5},{"p":"e","t":"i","x":242.1,"y":-71.8},{"p":"e","t":"i","x":243.6,"y":-72.1},{"p":"e","t":"i","x":245.6,"y":-72.7},{"p":"e","t":"i","x":247.5,"y":-73.0},{"p":"e","t":"i","x":251.5,"y":-73.6},{"p":"e","t":"i","x":252.8,"y":-75.4},{"p":"e","t":"i","x":254.7,"y":-75.7},{"p":"e","t":"i","x":255.8,"y":-76.0},{"p":"e","t":"i","x":256.8,"y":-76.0},{"p":"e","t":"i","x":258.7,"y":-76.3},{"p":"e","t":"i","x":259.6,"y":-77.2},{"p":"e","t":"i","x":262.5,"y":-76.9},{"p":"e","t":"i","x":263.5,"y":-79.3},{"p":"e","t":"i","x":264.4,"y":-79.0},{"p":"e","t":"i","x":265.4,"y":-79.3},{"p":"e","t":"i","x":266.6,"y":-79.3},{"p":"e","t":"i","x":267.5,"y":-79.3},{"p":"e","t":"i","x":270.3,"y":-79.7},{"p":"e","t":"i","x":271.4,"y":-79.7},{"p":"e","t":"i","x":272.3,"y":-80.5},{"p":"e","t":"i","x":273.3,"y":-80.2},{"p":"e","t":"i","x":275.2,"y":-80.9},{"p":"e","t":"i","x":278.0,"y":-81.1},{"p":"e","t":"i","x":279.9,"y":-81.7},{"p":"e","t":"i","x":281.2,"y":-81.7},{"p":"e","t":"i","x":283.0,"y":-83.2},{"p":"e","t":"i","x":285.0,"y":-82.9},{"p":"e","t":"i","x":286.7,"y":-82.9},{"p":"e","t":"i","x":286.8,"y":-83.9},{"p":"e","t":"i","x":288.2,"y":-83.2},{"p":"e","t":"i","x":289.2,"y":-83.9},{"p":"e","t":"i","x":290.3,"y":-83.9},{"p":"e","t":"i","x":290.7,"y":-83.2},{"p":"e","t":"i","x":291.0,"y":-83.9},{"p":"e","t":"i","x":292.5,"y":-84.1},{"p":"e","t":"i","x":296.0,"y":-84.1},{"p":"e","t":"i","x":299.9,"y":-84.4},{"p":"e","t":"i","x":302.9,"y":-86.9},{"p":"e","t":"i","x":303.5,"y":-86.3},{"p":"e","t":"i","x":304.3,"y":-86.3},{"p":"e","t":"i","x":305.0,"y":-86.3},{"p":"e","t":"i","x":307.1,"y":-85.7},
{"p":"f","t":"o","x":246.1,"y":-68.2},{"p":"f","t":"o","x":248.0,"y":-68.2},{"p":"f","t":"o","x":249.9,"y":-68.5},{"p":"f","t":"o","x":251.9,"y":-68.5},{"p":"f","t":"o","x":253.8,"y":-68.5},{"p":"f","t":"o","x":255.8,"y":-70.0},{"p":"f","t":"o","x":257.8,"y":-71.5},{"p":"f","t":"o","x":261.8,"y":-72.3},{"p":"f","t":"o","x":262.1,"y":-72.4},{"p":"f","t":"o","x":263.6,"y":-72.7},{"p":"f","t":"o","x":265.9,"y":-73.6},{"p":"f","t":"o","x":269.8,"y":-74.2},{"p":"f","t":"o","x":277.6,"y":-75.4},{"p":"f","t":"o","x":281.4,"y":-77.5},{"p":"f","t":"o","x":283.3,"y":-78.7},{"p":"f","t":"o","x":290.9,"y":-79.3},{"p":"f","t":"o","x":292.8,"y":-79.3},{"p":"f","t":"o","x":297.3,"y":-80.8},{"p":"f","t":"o","x":302.1,"y":-81.7},{"p":"f","t":"o","x":307.4,"y":-82.9},
{"p":"f","t":"i","x":238.3,"y":-67.6},{"p":"f","t":"i","x":246.1,"y":-70.0},{"p":"f","t":"i","x":248.1,"y":-70.6},{"p":"f","t":"i","x":250.0,"y":-71.2},{"p":"f","t":"i","x":251.9,"y":-71.2},{"p":"f","t":"i","x":253.8,"y":-71.5},{"p":"f","t":"i","x":255.9,"y":-72.7},{"p":"f","t":"i","x":257.8,"y":-73.0},{"p":"f","t":"i","x":260.0,"y":-73.3},{"p":"f","t":"i","x":262.2,"y":-73.6},{"p":"f","t":"i","x":266.0,"y":-74.2},{"p":"f","t":"i","x":269.8,"y":-74.8},{"p":"f","t":"i","x":259.7,"y":-78.7},{"p":"f","t":"i","x":260.8,"y":-78.4},{"p":"f","t":"i","x":261.9,"y":-78.7},{"p":"f","t":"i","x":262.8,"y":-78.7},{"p":"f","t":"i","x":263.8,"y":-78.7},{"p":"f","t":"i","x":275.7,"y":-79.3},{"p":"f","t":"i","x":277.7,"y":-79.3},{"p":"f","t":"i","x":276.3,"y":-82.3},{"p":"f","t":"i","x":278.4,"y":-82.3},{"p":"f","t":"i","x":280.4,"y":-82.6},{"p":"f","t":"i","x":281.5,"y":-82.6},{"p":"f","t":"i","x":282.3,"y":-82.9},{"p":"f","t":"i","x":280.4,"y":-83.8},{"p":"f","t":"i","x":283.3,"y":-84.1},{"p":"f","t":"i","x":289.2,"y":-85.1},{"p":"f","t":"i","x":291.7,"y":-84.4},{"p":"f","t":"i","x":294.2,"y":-86.3},{"p":"f","t":"i","x":295.1,"y":-86.3},{"p":"f","t":"i","x":295.8,"y":-86.3},{"p":"f","t":"i","x":296.5,"y":-85.3},{"p":"f","t":"i","x":296.7,"y":-86.3},{"p":"f","t":"i","x":299.1,"y":-86.3},{"p":"f","t":"i","x":300.9,"y":-85.9},{"p":"f","t":"i","x":302.8,"y":-85.3},{"p":"f","t":"i","x":304.4,"y":-86.3},{"p":"f","t":"i","x":305.8,"y":-86.3},{"p":"f","t":"i","x":310.0,"y":-86.3}
]
},
"columns":2,
"bounds":"flush",
"spacing":{"row":74,"column":94},
"resolve":{"scale":{"fill":"independent","color":"independent","shape":"independent"}},
"concat":[
{"width":440,"height":261,"resolve":{"axis":{"x":"independent","y":"independent"}},"layer":[
{"data":{"name":"heat"},"transform":[{"filter":"datum.p=='a'"},{"fold":["c1","c2","c3","c4","c5"],"as":["k","v"]},{"lookup":"k","from":{"data":{"name":"cols"},"key":"k","fields":["x0","x1"]}}],"mark":"rect",
"encoding":{"x":{"field":"x0","type":"quantitative","scale":{"domain":[220,330],"nice":false,"zero":false},"axis":{"orient":"bottom","values":[220,240,260,280,300,320],"ticks":false,"tickSize":0,"domainWidth":2,"labelFontSize":13,"labelColor":"#444","labelPadding":12,"title":"Ls (°)","titleFontSize":13,"titleFontWeight":"normal","titleColor":"#444","titlePadding":9}},"x2":{"field":"x1"},
"y":{"field":"y0","type":"quantitative","scale":{"domain":[-89,-60],"nice":false,"zero":false},"axis":{"orient":"left","values":[-60,-65,-70,-75,-80,-85],"ticks":false,"tickSize":0,"domainWidth":2,"labelFontSize":13,"labelColor":"#444","labelPadding":6,"labelExpr":"''+datum.value","title":"Latitude (°)","titleFontSize":13,"titleFontWeight":"normal","titleColor":"#444","titlePadding":15}},"y2":{"field":"y1"},
"fill":{"field":"v","type":"quantitative","scale":{"domain":[0,0.2],"range":["#ffffff","#000000"],"clamp":true},"legend":{"orient":"none","legendX":3,"legendY":-85,"direction":"horizontal","gradientLength":428,"gradientThickness":24,"gradientStrokeColor":"black","gradientStrokeWidth":1.5,"title":"P statistical index : cumul. CO2 defrost mass","titleLimit":600,"titleAnchor":"middle","titleFontSize":12,"titleFontWeight":"normal","titleColor":"#444","titlePadding":5,"labelFontSize":11,"labelColor":"#444","labelAlign":"center","labelOffset":6,"values":[0,0.05,0.1,0.15,0.2],"format":".2f"}}}},
{"data":{"name":"pts"},"transform":[{"filter":"datum.p=='a'"}],"mark":{"type":"point","filled":false,"strokeWidth":2,"size":40,"opacity":1,"clip":true},
"encoding":{"x":{"field":"x","type":"quantitative","scale":{"domain":[220,330],"nice":false,"zero":false},"axis":{"orient":"top","ticks":false,"tickSize":0,"domainWidth":2,"labels":false,"title":"SSPC recession at longitude 0°−10°E","titleFontSize":17,"titleFontWeight":"normal","titleColor":"#555","titlePadding":8}},
"y":{"field":"y","type":"quantitative","scale":{"domain":[-89,-60],"nice":false,"zero":false},"axis":{"orient":"right","ticks":false,"tickSize":0,"domainWidth":2,"labels":false,"title":null}},
"color":{"field":"t","type":"nominal","scale":{"domain":["o","i"],"range":["#1f3dff","#ff1f1f"]},"legend":{"orient":"none","legendX":5,"legendY":225,"title":null,"labelExpr":"datum.label=='o'?'Outer crocus line':'Inner crocus line'","labelFontSize":11,"labelColor":"#333","padding":3,"rowPadding":1,"strokeColor":"#555","fillColor":"white","symbolStrokeWidth":2,"symbolSize":40,"cornerRadius":0}},
"shape":{"field":"t","type":"nominal","scale":{"domain":["o","i"],"range":["M-1,0L1,0M0,-1L0,1","M-0.75,-0.75L0.75,0.75M-0.75,0.75L0.75,-0.75"]},"legend":{"orient":"none","legendX":5,"legendY":225,"title":null,"labelExpr":"datum.label=='o'?'Outer crocus line':'Inner crocus line'","labelFontSize":11,"labelColor":"#333","padding":3,"rowPadding":1,"strokeColor":"#555","fillColor":"white","symbolStrokeWidth":2,"symbolSize":40,"cornerRadius":0}}}},
{"data":{"values":[{}]},"mark":{"type":"text","align":"right","baseline":"middle","font":"Liberation Serif","fontSize":23,"fontWeight":"bold","color":"black"},
"encoding":{"x":{"datum":327.8,"type":"quantitative","scale":{"domain":[220,330],"nice":false,"zero":false},"axis":{"orient":"bottom","values":[220,240,260,280,300,320],"tickSize":8,"offset":-8,"tickWidth":1.5,"domain":false,"labels":false,"title":null}},
"y":{"datum":-86.8,"type":"quantitative","scale":{"domain":[-89,-60],"nice":false,"zero":false},"axis":{"orient":"left","values":[-60,-65,-70,-75,-80,-85],"tickSize":8,"offset":-8,"tickWidth":1.5,"domain":false,"labels":false,"title":null}},"text":{"value":"a)"}}},
{"data":{"values":[{}]},"mark":{"type":"point","opacity":0},
"encoding":{"x":{"datum":300,"type":"quantitative","scale":{"domain":[220,330],"nice":false,"zero":false},"axis":{"orient":"top","values":[220,240,260,280,300,320],"tickSize":8,"offset":-8,"tickWidth":1.5,"domain":false,"labels":false,"title":null}},
"y":{"datum":-80,"type":"quantitative","scale":{"domain":[-89,-60],"nice":false,"zero":false},"axis":{"orient":"right","values":[-60,-65,-70,-75,-80,-85],"tickSize":8,"offset":-8,"tickWidth":1.5,"domain":false,"labels":false,"title":null}}}},
{"data":{"values":[{}]},"mark":{"type":"point","opacity":0},
"encoding":{"x":{"datum":300,"type":"quantitative","scale":{"domain":[220,330],"nice":false,"zero":false},"axis":{"orient":"bottom","values":[225,230,235,245,250,255,265,270,275,285,290,295,305,310,315,325],"tickSize":4,"offset":-4,"tickWidth":1.5,"domain":false,"labels":false,"title":null}},
"y":{"datum":-80,"type":"quantitative","scale":{"domain":[-89,-60],"nice":false,"zero":false},"axis":{"orient":"left","values":[-61,-62,-63,-64,-66,-67,-68,-69,-71,-72,-73,-74,-76,-77,-78,-79,-81,-82,-83,-84,-86,-87,-88],"tickSize":4,"offset":-4,"tickWidth":1.5,"domain":false,"labels":false,"title":null}}}},
{"data":{"values":[{}]},"mark":{"type":"point","opacity":0},
"encoding":{"x":{"datum":300,"type":"quantitative","scale":{"domain":[220,330],"nice":false,"zero":false},"axis":{"orient":"top","values":[225,230,235,245,250,255,265,270,275,285,290,295,305,310,315,325],"tickSize":4,"offset":-4,"tickWidth":1.5,"domain":false,"labels":false,"title":null}},
"y":{"datum":-80,"type":"quantitative","scale":{"domain":[-89,-60],"nice":false,"zero":false},"axis":{"orient":"right","values":[-61,-62,-63,-64,-66,-67,-68,-69,-71,-72,-73,-74,-76,-77,-78,-79,-81,-82,-83,-84,-86,-87,-88],"tickSize":4,"offset":-4,"tickWidth":1.5,"domain":false,"labels":false,"title":null}}}}
]},
{"width":440,"height":261,"resolve":{"axis":{"x":"independent","y":"independent"}},"layer":[
{"data":{"name":"heat"},"transform":[{"filter":"datum.p=='b'"},{"fold":["c1","c2","c3","c4","c5"],"as":["k","v"]},{"lookup":"k","from":{"data":{"name":"cols"},"key":"k","fields":["x0","x1"]}}],"mark":"rect",
"encoding":{"x":{"field":"x0","type":"quantitative","scale":{"domain":[220,330],"nice":false,"zero":false},"axis":{"orient":"bottom","values":[220,240,260,280,300,320],"ticks":false,"tickSize":0,"domainWidth":2,"labelFontSize":13,"labelColor":"#444","labelPadding":12,"title":"Ls (°)","titleFontSize":13,"titleFontWeight":"normal","titleColor":"#444","titlePadding":9}},"x2":{"field":"x1"},
"y":{"field":"y0","type":"quantitative","scale":{"domain":[-89,-60],"nice":false,"zero":false},"axis":{"orient":"left","values":[-60,-65,-70,-75,-80,-85],"ticks":false,"tickSize":0,"domainWidth":2,"labelFontSize":13,"labelColor":"#444","labelPadding":6,"labelExpr":"''+datum.value","title":"Latitude (°)","titleFontSize":13,"titleFontWeight":"normal","titleColor":"#444","titlePadding":15}},"y2":{"field":"y1"},
"fill":{"field":"v","type":"quantitative","scale":{"domain":[0,0.2],"range":["#ffffff","#000000"],"clamp":true},"legend":{"orient":"none","legendX":3,"legendY":-85,"direction":"horizontal","gradientLength":428,"gradientThickness":24,"gradientStrokeColor":"black","gradientStrokeWidth":1.5,"title":"P statistical index : cumul. CO2 defrost mass","titleLimit":600,"titleAnchor":"middle","titleFontSize":12,"titleFontWeight":"normal","titleColor":"#444","titlePadding":5,"labelFontSize":11,"labelColor":"#444","labelAlign":"center","labelOffset":6,"values":[0,0.05,0.1,0.15,0.2],"format":".2f"}}}},
{"data":{"name":"pts"},"transform":[{"filter":"datum.p=='b'"}],"mark":{"type":"point","filled":false,"strokeWidth":2,"size":40,"opacity":1,"clip":true},
"encoding":{"x":{"field":"x","type":"quantitative","scale":{"domain":[220,330],"nice":false,"zero":false},"axis":{"orient":"top","ticks":false,"tickSize":0,"domainWidth":2,"labels":false,"title":"SSPC recession at longitude 70°−80°E","titleFontSize":17,"titleFontWeight":"normal","titleColor":"#555","titlePadding":8}},
"y":{"field":"y","type":"quantitative","scale":{"domain":[-89,-60],"nice":false,"zero":false},"axis":{"orient":"right","ticks":false,"tickSize":0,"domainWidth":2,"labels":false,"title":null}},
"color":{"field":"t","type":"nominal","scale":{"domain":["o","i"],"range":["#1f3dff","#ff1f1f"]},"legend":{"orient":"none","legendX":5,"legendY":225,"title":null,"labelExpr":"datum.label=='o'?'Outer crocus line':'Inner crocus line'","labelFontSize":11,"labelColor":"#333","padding":3,"rowPadding":1,"strokeColor":"#555","fillColor":"white","symbolStrokeWidth":2,"symbolSize":40,"cornerRadius":0}},
"shape":{"field":"t","type":"nominal","scale":{"domain":["o","i"],"range":["M-1,0L1,0M0,-1L0,1","M-0.75,-0.75L0.75,0.75M-0.75,0.75L0.75,-0.75"]},"legend":{"orient":"none","legendX":5,"legendY":225,"title":null,"labelExpr":"datum.label=='o'?'Outer crocus line':'Inner crocus line'","labelFontSize":11,"labelColor":"#333","padding":3,"rowPadding":1,"strokeColor":"#555","fillColor":"white","symbolStrokeWidth":2,"symbolSize":40,"cornerRadius":0}}}},
{"data":{"values":[{}]},"mark":{"type":"text","align":"right","baseline":"middle","font":"Liberation Serif","fontSize":23,"fontWeight":"bold","color":"black"},
"encoding":{"x":{"datum":327.8,"type":"quantitative","scale":{"domain":[220,330],"nice":false,"zero":false},"axis":{"orient":"bottom","values":[220,240,260,280,300,320],"tickSize":8,"offset":-8,"tickWidth":1.5,"domain":false,"labels":false,"title":null}},
"y":{"datum":-86.8,"type":"quantitative","scale":{"domain":[-89,-60],"nice":false,"zero":false},"axis":{"orient":"left","values":[-60,-65,-70,-75,-80,-85],"tickSize":8,"offset":-8,"tickWidth":1.5,"domain":false,"labels":false,"title":null}},"text":{"value":"b)"}}},
{"data":{"values":[{}]},"mark":{"type":"point","opacity":0},
"encoding":{"x":{"datum":300,"type":"quantitative","scale":{"domain":[220,330],"nice":false,"zero":false},"axis":{"orient":"top","values":[220,240,260,280,300,320],"tickSize":8,"offset":-8,"tickWidth":1.5,"domain":false,"labels":false,"title":null}},
"y":{"datum":-80,"type":"quantitative","scale":{"domain":[-89,-60],"nice":false,"zero":false},"axis":{"orient":"right","values":[-60,-65,-70,-75,-80,-85],"tickSize":8,"offset":-8,"tickWidth":1.5,"domain":false,"labels":false,"title":null}}}},
{"data":{"values":[{}]},"mark":{"type":"point","opacity":0},
"encoding":{"x":{"datum":300,"type":"quantitative","scale":{"domain":[220,330],"nice":false,"zero":false},"axis":{"orient":"bottom","values":[225,230,235,245,250,255,265,270,275,285,290,295,305,310,315,325],"tickSize":4,"offset":-4,"tickWidth":1.5,"domain":false,"labels":false,"title":null}},
"y":{"datum":-80,"type":"quantitative","scale":{"domain":[-89,-60],"nice":false,"zero":false},"axis":{"orient":"left","values":[-61,-62,-63,-64,-66,-67,-68,-69,-71,-72,-73,-74,-76,-77,-78,-79,-81,-82,-83,-84,-86,-87,-88],"tickSize":4,"offset":-4,"tickWidth":1.5,"domain":false,"labels":false,"title":null}}}},
{"data":{"values":[{}]},"mark":{"type":"point","opacity":0},
"encoding":{"x":{"datum":300,"type":"quantitative","scale":{"domain":[220,330],"nice":false,"zero":false},"axis":{"orient":"top","values":[225,230,235,245,250,255,265,270,275,285,290,295,305,310,315,325],"tickSize":4,"offset":-4,"tickWidth":1.5,"domain":false,"labels":false,"title":null}},
"y":{"datum":-80,"type":"quantitative","scale":{"domain":[-89,-60],"nice":false,"zero":false},"axis":{"orient":"right","values":[-61,-62,-63,-64,-66,-67,-68,-69,-71,-72,-73,-74,-76,-77,-78,-79,-81,-82,-83,-84,-86,-87,-88],"tickSize":4,"offset":-4,"tickWidth":1.5,"domain":false,"labels":false,"title":null}}}}
]},
{"width":440,"height":261,"resolve":{"axis":{"x":"independent","y":"independent"}},"layer":[
{"data":{"name":"heat"},"transform":[{"filter":"datum.p=='c'"},{"fold":["c1","c2","c3","c4","c5"],"as":["k","v"]},{"lookup":"k","from":{"data":{"name":"cols"},"key":"k","fields":["x0","x1"]}}],"mark":"rect",
"encoding":{"x":{"field":"x0","type":"quantitative","scale":{"domain":[220,330],"nice":false,"zero":false},"axis":{"orient":"bottom","values":[220,240,260,280,300,320],"ticks":false,"tickSize":0,"domainWidth":2,"labelFontSize":13,"labelColor":"#444","labelPadding":12,"title":"Ls (°)","titleFontSize":13,"titleFontWeight":"normal","titleColor":"#444","titlePadding":9}},"x2":{"field":"x1"},
"y":{"field":"y0","type":"quantitative","scale":{"domain":[-89,-60],"nice":false,"zero":false},"axis":{"orient":"left","values":[-60,-65,-70,-75,-80,-85],"ticks":false,"tickSize":0,"domainWidth":2,"labelFontSize":13,"labelColor":"#444","labelPadding":6,"labelExpr":"''+datum.value","title":"Latitude (°)","titleFontSize":13,"titleFontWeight":"normal","titleColor":"#444","titlePadding":15}},"y2":{"field":"y1"},
"fill":{"field":"v","type":"quantitative","scale":{"domain":[0,0.2],"range":["#ffffff","#000000"],"clamp":true},"legend":null}}},
{"data":{"name":"pts"},"transform":[{"filter":"datum.p=='c'"}],"mark":{"type":"point","filled":false,"strokeWidth":2,"size":40,"opacity":1,"clip":true},
"encoding":{"x":{"field":"x","type":"quantitative","scale":{"domain":[220,330],"nice":false,"zero":false},"axis":{"orient":"top","ticks":false,"tickSize":0,"domainWidth":2,"labels":false,"title":"SSPC recession at longitude 200°−210°E","titleFontSize":17,"titleFontWeight":"normal","titleColor":"#555","titlePadding":8}},
"y":{"field":"y","type":"quantitative","scale":{"domain":[-89,-60],"nice":false,"zero":false},"axis":{"orient":"right","ticks":false,"tickSize":0,"domainWidth":2,"labels":false,"title":null}},
"color":{"field":"t","type":"nominal","scale":{"domain":["o","i"],"range":["#1f3dff","#ff1f1f"]},"legend":{"orient":"none","legendX":5,"legendY":225,"title":null,"labelExpr":"datum.label=='o'?'Outer crocus line':'Inner crocus line'","labelFontSize":11,"labelColor":"#333","padding":3,"rowPadding":1,"strokeColor":"#555","fillColor":"white","symbolStrokeWidth":2,"symbolSize":40,"cornerRadius":0}},
"shape":{"field":"t","type":"nominal","scale":{"domain":["o","i"],"range":["M-1,0L1,0M0,-1L0,1","M-0.75,-0.75L0.75,0.75M-0.75,0.75L0.75,-0.75"]},"legend":{"orient":"none","legendX":5,"legendY":225,"title":null,"labelExpr":"datum.label=='o'?'Outer crocus line':'Inner crocus line'","labelFontSize":11,"labelColor":"#333","padding":3,"rowPadding":1,"strokeColor":"#555","fillColor":"white","symbolStrokeWidth":2,"symbolSize":40,"cornerRadius":0}}}},
{"data":{"values":[{}]},"mark":{"type":"text","align":"right","baseline":"middle","font":"Liberation Serif","fontSize":23,"fontWeight":"bold","color":"black"},
"encoding":{"x":{"datum":327.8,"type":"quantitative","scale":{"domain":[220,330],"nice":false,"zero":false},"axis":{"orient":"bottom","values":[220,240,260,280,300,320],"tickSize":8,"offset":-8,"tickWidth":1.5,"domain":false,"labels":false,"title":null}},
"y":{"datum":-86.8,"type":"quantitative","scale":{"domain":[-89,-60],"nice":false,"zero":false},"axis":{"orient":"left","values":[-60,-65,-70,-75,-80,-85],"tickSize":8,"offset":-8,"tickWidth":1.5,"domain":false,"labels":false,"title":null}},"text":{"value":"c)"}}},
{"data":{"values":[{}]},"mark":{"type":"point","opacity":0},
"encoding":{"x":{"datum":300,"type":"quantitative","scale":{"domain":[220,330],"nice":false,"zero":false},"axis":{"orient":"top","values":[220,240,260,280,300,320],"tickSize":8,"offset":-8,"tickWidth":1.5,"domain":false,"labels":false,"title":null}},
"y":{"datum":-80,"type":"quantitative","scale":{"domain":[-89,-60],"nice":false,"zero":false},"axis":{"orient":"right","values":[-60,-65,-70,-75,-80,-85],"tickSize":8,"offset":-8,"tickWidth":1.5,"domain":false,"labels":false,"title":null}}}},
{"data":{"values":[{}]},"mark":{"type":"point","opacity":0},
"encoding":{"x":{"datum":300,"type":"quantitative","scale":{"domain":[220,330],"nice":false,"zero":false},"axis":{"orient":"bottom","values":[225,230,235,245,250,255,265,270,275,285,290,295,305,310,315,325],"tickSize":4,"offset":-4,"tickWidth":1.5,"domain":false,"labels":false,"title":null}},
"y":{"datum":-80,"type":"quantitative","scale":{"domain":[-89,-60],"nice":false,"zero":false},"axis":{"orient":"left","values":[-61,-62,-63,-64,-66,-67,-68,-69,-71,-72,-73,-74,-76,-77,-78,-79,-81,-82,-83,-84,-86,-87,-88],"tickSize":4,"offset":-4,"tickWidth":1.5,"domain":false,"labels":false,"title":null}}}},
{"data":{"values":[{}]},"mark":{"type":"point","opacity":0},
"encoding":{"x":{"datum":300,"type":"quantitative","scale":{"domain":[220,330],"nice":false,"zero":false},"axis":{"orient":"top","values":[225,230,235,245,250,255,265,270,275,285,290,295,305,310,315,325],"tickSize":4,"offset":-4,"tickWidth":1.5,"domain":false,"labels":false,"title":null}},
"y":{"datum":-80,"type":"quantitative","scale":{"domain":[-89,-60],"nice":false,"zero":false},"axis":{"orient":"right","values":[-61,-62,-63,-64,-66,-67,-68,-69,-71,-72,-73,-74,-76,-77,-78,-79,-81,-82,-83,-84,-86,-87,-88],"tickSize":4,"offset":-4,"tickWidth":1.5,"domain":false,"labels":false,"title":null}}}}
]},
{"width":440,"height":261,"resolve":{"axis":{"x":"independent","y":"independent"}},"layer":[
{"data":{"name":"heat"},"transform":[{"filter":"datum.p=='d'"},{"fold":["c1","c2","c3","c4","c5"],"as":["k","v"]},{"lookup":"k","from":{"data":{"name":"cols"},"key":"k","fields":["x0","x1"]}}],"mark":"rect",
"encoding":{"x":{"field":"x0","type":"quantitative","scale":{"domain":[220,330],"nice":false,"zero":false},"axis":{"orient":"bottom","values":[220,240,260,280,300,320],"ticks":false,"tickSize":0,"domainWidth":2,"labelFontSize":13,"labelColor":"#444","labelPadding":12,"title":"Ls (°)","titleFontSize":13,"titleFontWeight":"normal","titleColor":"#444","titlePadding":9}},"x2":{"field":"x1"},
"y":{"field":"y0","type":"quantitative","scale":{"domain":[-89,-60],"nice":false,"zero":false},"axis":{"orient":"left","values":[-60,-65,-70,-75,-80,-85],"ticks":false,"tickSize":0,"domainWidth":2,"labelFontSize":13,"labelColor":"#444","labelPadding":6,"labelExpr":"''+datum.value","title":"Latitude (°)","titleFontSize":13,"titleFontWeight":"normal","titleColor":"#444","titlePadding":15}},"y2":{"field":"y1"},
"fill":{"field":"v","type":"quantitative","scale":{"domain":[0,0.2],"range":["#ffffff","#000000"],"clamp":true},"legend":null}}},
{"data":{"name":"pts"},"transform":[{"filter":"datum.p=='d'"}],"mark":{"type":"point","filled":false,"strokeWidth":2,"size":40,"opacity":1,"clip":true},
"encoding":{"x":{"field":"x","type":"quantitative","scale":{"domain":[220,330],"nice":false,"zero":false},"axis":{"orient":"top","ticks":false,"tickSize":0,"domainWidth":2,"labels":false,"title":"SSPC recession at longitude 260°−270°E","titleFontSize":17,"titleFontWeight":"normal","titleColor":"#555","titlePadding":8}},
"y":{"field":"y","type":"quantitative","scale":{"domain":[-89,-60],"nice":false,"zero":false},"axis":{"orient":"right","ticks":false,"tickSize":0,"domainWidth":2,"labels":false,"title":null}},
"color":{"field":"t","type":"nominal","scale":{"domain":["o","i"],"range":["#1f3dff","#ff1f1f"]},"legend":{"orient":"none","legendX":5,"legendY":225,"title":null,"labelExpr":"datum.label=='o'?'Outer crocus line':'Inner crocus line'","labelFontSize":11,"labelColor":"#333","padding":3,"rowPadding":1,"strokeColor":"#555","fillColor":"white","symbolStrokeWidth":2,"symbolSize":40,"cornerRadius":0}},
"shape":{"field":"t","type":"nominal","scale":{"domain":["o","i"],"range":["M-1,0L1,0M0,-1L0,1","M-0.75,-0.75L0.75,0.75M-0.75,0.75L0.75,-0.75"]},"legend":{"orient":"none","legendX":5,"legendY":225,"title":null,"labelExpr":"datum.label=='o'?'Outer crocus line':'Inner crocus line'","labelFontSize":11,"labelColor":"#333","padding":3,"rowPadding":1,"strokeColor":"#555","fillColor":"white","symbolStrokeWidth":2,"symbolSize":40,"cornerRadius":0}}}},
{"data":{"values":[{}]},"mark":{"type":"text","align":"right","baseline":"middle","font":"Liberation Serif","fontSize":23,"fontWeight":"bold","color":"black"},
"encoding":{"x":{"datum":327.8,"type":"quantitative","scale":{"domain":[220,330],"nice":false,"zero":false},"axis":{"orient":"bottom","values":[220,240,260,280,300,320],"tickSize":8,"offset":-8,"tickWidth":1.5,"domain":false,"labels":false,"title":null}},
"y":{"datum":-86.8,"type":"quantitative","scale":{"domain":[-89,-60],"nice":false,"zero":false},"axis":{"orient":"left","values":[-60,-65,-70,-75,-80,-85],"tickSize":8,"offset":-8,"tickWidth":1.5,"domain":false,"labels":false,"title":null}},"text":{"value":"d)"}}},
{"data":{"values":[{}]},"mark":{"type":"point","opacity":0},
"encoding":{"x":{"datum":300,"type":"quantitative","scale":{"domain":[220,330],"nice":false,"zero":false},"axis":{"orient":"top","values":[220,240,260,280,300,320],"tickSize":8,"offset":-8,"tickWidth":1.5,"domain":false,"labels":false,"title":null}},
"y":{"datum":-80,"type":"quantitative","scale":{"domain":[-89,-60],"nice":false,"zero":false},"axis":{"orient":"right","values":[-60,-65,-70,-75,-80,-85],"tickSize":8,"offset":-8,"tickWidth":1.5,"domain":false,"labels":false,"title":null}}}},
{"data":{"values":[{}]},"mark":{"type":"point","opacity":0},
"encoding":{"x":{"datum":300,"type":"quantitative","scale":{"domain":[220,330],"nice":false,"zero":false},"axis":{"orient":"bottom","values":[225,230,235,245,250,255,265,270,275,285,290,295,305,310,315,325],"tickSize":4,"offset":-4,"tickWidth":1.5,"domain":false,"labels":false,"title":null}},
"y":{"datum":-80,"type":"quantitative","scale":{"domain":[-89,-60],"nice":false,"zero":false},"axis":{"orient":"left","values":[-61,-62,-63,-64,-66,-67,-68,-69,-71,-72,-73,-74,-76,-77,-78,-79,-81,-82,-83,-84,-86,-87,-88],"tickSize":4,"offset":-4,"tickWidth":1.5,"domain":false,"labels":false,"title":null}}}},
{"data":{"values":[{}]},"mark":{"type":"point","opacity":0},
"encoding":{"x":{"datum":300,"type":"quantitative","scale":{"domain":[220,330],"nice":false,"zero":false},"axis":{"orient":"top","values":[225,230,235,245,250,255,265,270,275,285,290,295,305,310,315,325],"tickSize":4,"offset":-4,"tickWidth":1.5,"domain":false,"labels":false,"title":null}},
"y":{"datum":-80,"type":"quantitative","scale":{"domain":[-89,-60],"nice":false,"zero":false},"axis":{"orient":"right","values":[-61,-62,-63,-64,-66,-67,-68,-69,-71,-72,-73,-74,-76,-77,-78,-79,-81,-82,-83,-84,-86,-87,-88],"tickSize":4,"offset":-4,"tickWidth":1.5,"domain":false,"labels":false,"title":null}}}}
]},
{"width":440,"height":261,"resolve":{"axis":{"x":"independent","y":"independent"}},"layer":[
{"data":{"name":"heat"},"transform":[{"filter":"datum.p=='e'"},{"fold":["c1","c2","c3","c4","c5"],"as":["k","v"]},{"lookup":"k","from":{"data":{"name":"cols"},"key":"k","fields":["x0","x1"]}}],"mark":"rect",
"encoding":{"x":{"field":"x0","type":"quantitative","scale":{"domain":[220,330],"nice":false,"zero":false},"axis":{"orient":"bottom","values":[220,240,260,280,300,320],"ticks":false,"tickSize":0,"domainWidth":2,"labelFontSize":13,"labelColor":"#444","labelPadding":12,"title":"Ls (°)","titleFontSize":13,"titleFontWeight":"normal","titleColor":"#444","titlePadding":9}},"x2":{"field":"x1"},
"y":{"field":"y0","type":"quantitative","scale":{"domain":[-89,-60],"nice":false,"zero":false},"axis":{"orient":"left","values":[-60,-65,-70,-75,-80,-85],"ticks":false,"tickSize":0,"domainWidth":2,"labelFontSize":13,"labelColor":"#444","labelPadding":6,"labelExpr":"''+datum.value","title":"Latitude (°)","titleFontSize":13,"titleFontWeight":"normal","titleColor":"#444","titlePadding":15}},"y2":{"field":"y1"},
"fill":{"field":"v","type":"quantitative","scale":{"domain":[0,0.2],"range":["#ffffff","#000000"],"clamp":true},"legend":null}}},
{"data":{"name":"pts"},"transform":[{"filter":"datum.p=='e'"}],"mark":{"type":"point","filled":false,"strokeWidth":2,"size":40,"opacity":1,"clip":true},
"encoding":{"x":{"field":"x","type":"quantitative","scale":{"domain":[220,330],"nice":false,"zero":false},"axis":{"orient":"top","ticks":false,"tickSize":0,"domainWidth":2,"labels":false,"title":"SSPC recession at longitude 270°−280°E","titleFontSize":17,"titleFontWeight":"normal","titleColor":"#555","titlePadding":8}},
"y":{"field":"y","type":"quantitative","scale":{"domain":[-89,-60],"nice":false,"zero":false},"axis":{"orient":"right","ticks":false,"tickSize":0,"domainWidth":2,"labels":false,"title":null}},
"color":{"field":"t","type":"nominal","scale":{"domain":["o","i"],"range":["#1f3dff","#ff1f1f"]},"legend":{"orient":"none","legendX":5,"legendY":225,"title":null,"labelExpr":"datum.label=='o'?'Outer crocus line':'Inner crocus line'","labelFontSize":11,"labelColor":"#333","padding":3,"rowPadding":1,"strokeColor":"#555","fillColor":"white","symbolStrokeWidth":2,"symbolSize":40,"cornerRadius":0}},
"shape":{"field":"t","type":"nominal","scale":{"domain":["o","i"],"range":["M-1,0L1,0M0,-1L0,1","M-0.75,-0.75L0.75,0.75M-0.75,0.75L0.75,-0.75"]},"legend":{"orient":"none","legendX":5,"legendY":225,"title":null,"labelExpr":"datum.label=='o'?'Outer crocus line':'Inner crocus line'","labelFontSize":11,"labelColor":"#333","padding":3,"rowPadding":1,"strokeColor":"#555","fillColor":"white","symbolStrokeWidth":2,"symbolSize":40,"cornerRadius":0}}}},
{"data":{"values":[{}]},"mark":{"type":"text","align":"right","baseline":"middle","font":"Liberation Serif","fontSize":23,"fontWeight":"bold","color":"black"},
"encoding":{"x":{"datum":327.8,"type":"quantitative","scale":{"domain":[220,330],"nice":false,"zero":false},"axis":{"orient":"bottom","values":[220,240,260,280,300,320],"tickSize":8,"offset":-8,"tickWidth":1.5,"domain":false,"labels":false,"title":null}},
"y":{"datum":-86.8,"type":"quantitative","scale":{"domain":[-89,-60],"nice":false,"zero":false},"axis":{"orient":"left","values":[-60,-65,-70,-75,-80,-85],"tickSize":8,"offset":-8,"tickWidth":1.5,"domain":false,"labels":false,"title":null}},"text":{"value":"e)"}}},
{"data":{"values":[{}]},"mark":{"type":"point","opacity":0},
"encoding":{"x":{"datum":300,"type":"quantitative","scale":{"domain":[220,330],"nice":false,"zero":false},"axis":{"orient":"top","values":[220,240,260,280,300,320],"tickSize":8,"offset":-8,"tickWidth":1.5,"domain":false,"labels":false,"title":null}},
"y":{"datum":-80,"type":"quantitative","scale":{"domain":[-89,-60],"nice":false,"zero":false},"axis":{"orient":"right","values":[-60,-65,-70,-75,-80,-85],"tickSize":8,"offset":-8,"tickWidth":1.5,"domain":false,"labels":false,"title":null}}}},
{"data":{"values":[{}]},"mark":{"type":"point","opacity":0},
"encoding":{"x":{"datum":300,"type":"quantitative","scale":{"domain":[220,330],"nice":false,"zero":false},"axis":{"orient":"bottom","values":[225,230,235,245,250,255,265,270,275,285,290,295,305,310,315,325],"tickSize":4,"offset":-4,"tickWidth":1.5,"domain":false,"labels":false,"title":null}},
"y":{"datum":-80,"type":"quantitative","scale":{"domain":[-89,-60],"nice":false,"zero":false},"axis":{"orient":"left","values":[-61,-62,-63,-64,-66,-67,-68,-69,-71,-72,-73,-74,-76,-77,-78,-79,-81,-82,-83,-84,-86,-87,-88],"tickSize":4,"offset":-4,"tickWidth":1.5,"domain":false,"labels":false,"title":null}}}},
{"data":{"values":[{}]},"mark":{"type":"point","opacity":0},
"encoding":{"x":{"datum":300,"type":"quantitative","scale":{"domain":[220,330],"nice":false,"zero":false},"axis":{"orient":"top","values":[225,230,235,245,250,255,265,270,275,285,290,295,305,310,315,325],"tickSize":4,"offset":-4,"tickWidth":1.5,"domain":false,"labels":false,"title":null}},
"y":{"datum":-80,"type":"quantitative","scale":{"domain":[-89,-60],"nice":false,"zero":false},"axis":{"orient":"right","values":[-61,-62,-63,-64,-66,-67,-68,-69,-71,-72,-73,-74,-76,-77,-78,-79,-81,-82,-83,-84,-86,-87,-88],"tickSize":4,"offset":-4,"tickWidth":1.5,"domain":false,"labels":false,"title":null}}}}
]},
{"width":440,"height":261,"resolve":{"axis":{"x":"independent","y":"independent"}},"layer":[
{"data":{"name":"heat"},"transform":[{"filter":"datum.p=='f'"},{"fold":["c1","c2","c3","c4","c5"],"as":["k","v"]},{"lookup":"k","from":{"data":{"name":"cols"},"key":"k","fields":["x0","x1"]}}],"mark":"rect",
"encoding":{"x":{"field":"x0","type":"quantitative","scale":{"domain":[220,330],"nice":false,"zero":false},"axis":{"orient":"bottom","values":[220,240,260,280,300,320],"ticks":false,"tickSize":0,"domainWidth":2,"labelFontSize":13,"labelColor":"#444","labelPadding":12,"title":"Ls (°)","titleFontSize":13,"titleFontWeight":"normal","titleColor":"#444","titlePadding":9}},"x2":{"field":"x1"},
"y":{"field":"y0","type":"quantitative","scale":{"domain":[-89,-60],"nice":false,"zero":false},"axis":{"orient":"left","values":[-60,-65,-70,-75,-80,-85],"ticks":false,"tickSize":0,"domainWidth":2,"labelFontSize":13,"labelColor":"#444","labelPadding":6,"labelExpr":"''+datum.value","title":"Latitude (°)","titleFontSize":13,"titleFontWeight":"normal","titleColor":"#444","titlePadding":15}},"y2":{"field":"y1"},
"fill":{"field":"v","type":"quantitative","scale":{"domain":[0,0.2],"range":["#ffffff","#000000"],"clamp":true},"legend":null}}},
{"data":{"name":"pts"},"transform":[{"filter":"datum.p=='f'"}],"mark":{"type":"point","filled":false,"strokeWidth":2,"size":40,"opacity":1,"clip":true},
"encoding":{"x":{"field":"x","type":"quantitative","scale":{"domain":[220,330],"nice":false,"zero":false},"axis":{"orient":"top","ticks":false,"tickSize":0,"domainWidth":2,"labels":false,"title":"SSPC recession at longitude 320°−330°E","titleFontSize":17,"titleFontWeight":"normal","titleColor":"#555","titlePadding":8}},
"y":{"field":"y","type":"quantitative","scale":{"domain":[-89,-60],"nice":false,"zero":false},"axis":{"orient":"right","ticks":false,"tickSize":0,"domainWidth":2,"labels":false,"title":null}},
"color":{"field":"t","type":"nominal","scale":{"domain":["o","i"],"range":["#1f3dff","#ff1f1f"]},"legend":{"orient":"none","legendX":5,"legendY":225,"title":null,"labelExpr":"datum.label=='o'?'Outer crocus line':'Inner crocus line'","labelFontSize":11,"labelColor":"#333","padding":3,"rowPadding":1,"strokeColor":"#555","fillColor":"white","symbolStrokeWidth":2,"symbolSize":40,"cornerRadius":0}},
"shape":{"field":"t","type":"nominal","scale":{"domain":["o","i"],"range":["M-1,0L1,0M0,-1L0,1","M-0.75,-0.75L0.75,0.75M-0.75,0.75L0.75,-0.75"]},"legend":{"orient":"none","legendX":5,"legendY":225,"title":null,"labelExpr":"datum.label=='o'?'Outer crocus line':'Inner crocus line'","labelFontSize":11,"labelColor":"#333","padding":3,"rowPadding":1,"strokeColor":"#555","fillColor":"white","symbolStrokeWidth":2,"symbolSize":40,"cornerRadius":0}}}},
{"data":{"values":[{}]},"mark":{"type":"text","align":"right","baseline":"middle","font":"Liberation Serif","fontSize":23,"fontWeight":"bold","color":"black"},
"encoding":{"x":{"datum":327.8,"type":"quantitative","scale":{"domain":[220,330],"nice":false,"zero":false},"axis":{"orient":"bottom","values":[220,240,260,280,300,320],"tickSize":8,"offset":-8,"tickWidth":1.5,"domain":false,"labels":false,"title":null}},
"y":{"datum":-86.8,"type":"quantitative","scale":{"domain":[-89,-60],"nice":false,"zero":false},"axis":{"orient":"left","values":[-60,-65,-70,-75,-80,-85],"tickSize":8,"offset":-8,"tickWidth":1.5,"domain":false,"labels":false,"title":null}},"text":{"value":"f)"}}},
{"data":{"values":[{}]},"mark":{"type":"point","opacity":0},
"encoding":{"x":{"datum":300,"type":"quantitative","scale":{"domain":[220,330],"nice":false,"zero":false},"axis":{"orient":"top","values":[220,240,260,280,300,320],"tickSize":8,"offset":-8,"tickWidth":1.5,"domain":false,"labels":false,"title":null}},
"y":{"datum":-80,"type":"quantitative","scale":{"domain":[-89,-60],"nice":false,"zero":false},"axis":{"orient":"right","values":[-60,-65,-70,-75,-80,-85],"tickSize":8,"offset":-8,"tickWidth":1.5,"domain":false,"labels":false,"title":null}}}},
{"data":{"values":[{}]},"mark":{"type":"point","opacity":0},
"encoding":{"x":{"datum":300,"type":"quantitative","scale":{"domain":[220,330],"nice":false,"zero":false},"axis":{"orient":"bottom","values":[225,230,235,245,250,255,265,270,275,285,290,295,305,310,315,325],"tickSize":4,"offset":-4,"tickWidth":1.5,"domain":false,"labels":false,"title":null}},
"y":{"datum":-80,"type":"quantitative","scale":{"domain":[-89,-60],"nice":false,"zero":false},"axis":{"orient":"left","values":[-61,-62,-63,-64,-66,-67,-68,-69,-71,-72,-73,-74,-76,-77,-78,-79,-81,-82,-83,-84,-86,-87,-88],"tickSize":4,"offset":-4,"tickWidth":1.5,"domain":false,"labels":false,"title":null}}}},
{"data":{"values":[{}]},"mark":{"type":"point","opacity":0},
"encoding":{"x":{"datum":300,"type":"quantitative","scale":{"domain":[220,330],"nice":false,"zero":false},"axis":{"orient":"top","values":[225,230,235,245,250,255,265,270,275,285,290,295,305,310,315,325],"tickSize":4,"offset":-4,"tickWidth":1.5,"domain":false,"labels":false,"title":null}},
"y":{"datum":-80,"type":"quantitative","scale":{"domain":[-89,-60],"nice":false,"zero":false},"axis":{"orient":"right","values":[-61,-62,-63,-64,-66,-67,-68,-69,-71,-72,-73,-74,-76,-77,-78,-79,-81,-82,-83,-84,-86,-87,-88],"tickSize":4,"offset":-4,"tickWidth":1.5,"domain":false,"labels":false,"title":null}}}}
]}
]
}
